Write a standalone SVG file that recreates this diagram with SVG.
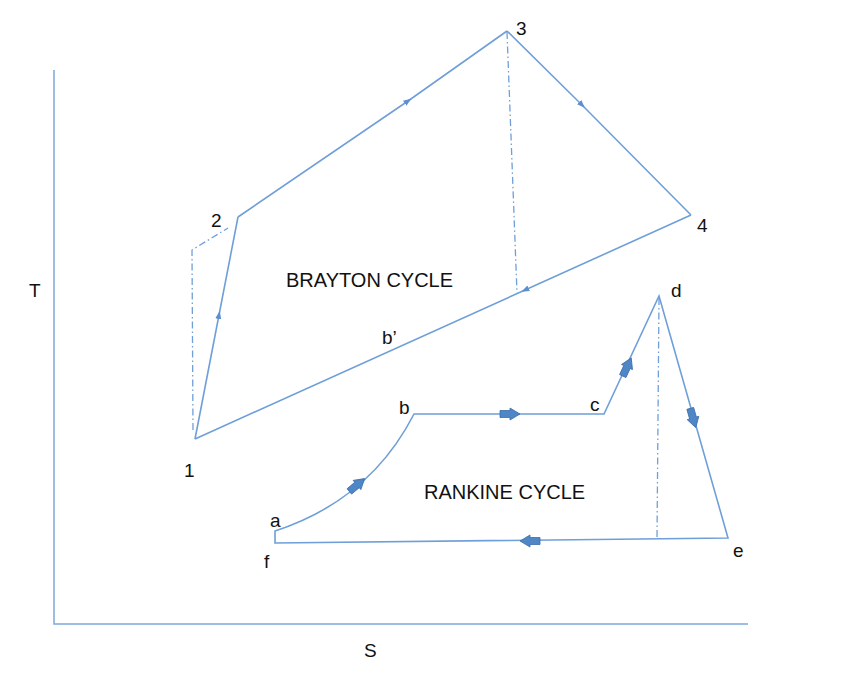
<svg xmlns="http://www.w3.org/2000/svg" width="850" height="697" viewBox="0 0 850 697">
<style>
.ln{fill:none;stroke:#6F9FD8;stroke-width:1.6}
.dd{fill:none;stroke:#6F9FD8;stroke-width:1.3;stroke-dasharray:7 3 1.5 3}
.ax{fill:none;stroke:#7FA8D9;stroke-width:1.5}
.t{font-family:"Liberation Sans",Arial,sans-serif;font-size:19px;fill:#111}
.c{font-size:20px}
.blk{fill:#4F86C6;stroke:#3A6DAA;stroke-width:0.8}
</style>
<defs>
<marker id="sm" markerWidth="8" markerHeight="8" refX="4" refY="4" orient="auto" markerUnits="userSpaceOnUse">
<path d="M0,1 L8,4 L0,7 Z" fill="#5B8FCF"/>
</marker>
<path id="ba" d="M-10,-3.5 L0,-3.5 L0,-6 L10,0 L0,6 L0,3.5 L-10,3.5 Z"/>
</defs>
<rect width="850" height="697" fill="#fff"/>
<g id="axes">
<path class="ax" d="M54,70 L54,624 L748,624"/>
<text class="t" x="29" y="297">T</text>
<text class="t" x="364" y="657">S</text>
</g>
<g id="connectors">
<path class="ln" d="M195,439 L219,315 L238,217" marker-mid="url(#sm)"/>
<path class="ln" d="M238,217 L408,101 L507,31" marker-mid="url(#sm)"/>
<path class="ln" d="M507,31 L582,105 L691,215" marker-mid="url(#sm)"/>
<path class="ln" d="M691,215 L525,290 L195,439" marker-mid="url(#sm)"/>
<path class="dd" d="M193,430 L192,250 L228,228"/>
<path class="dd" d="M507,32 L517,293"/>
<path class="ln" d="M275,543 L275,531 Q370,500 414,414 L604,414 L659,296 L728,538 Z"/>
<path class="dd" d="M659,298 L657,538"/>
<use href="#ba" class="blk" transform="translate(357,485) rotate(-40)"/>
<use href="#ba" class="blk" transform="translate(510,414)"/>
<use href="#ba" class="blk" transform="translate(627,367) rotate(-65)"/>
<use href="#ba" class="blk" transform="translate(693,418) rotate(74)"/>
<use href="#ba" class="blk" transform="translate(530,541) rotate(180)"/>
</g>
<g id="brayton">
<text class="t" x="184" y="477">1</text>
<text class="t" x="211" y="227">2</text>
<text class="t" x="516" y="35">3</text>
<text class="t" x="697" y="232">4</text>
<text class="t c" x="286" y="287">BRAYTON CYCLE</text>
<text class="t" x="382" y="344">b’</text>
</g>
<g id="rankine">
<text class="t" x="270" y="527">a</text>
<text class="t" x="399" y="414">b</text>
<text class="t" x="590" y="411">c</text>
<text class="t" x="671" y="297">d</text>
<text class="t" x="733" y="557">e</text>
<text class="t" x="264" y="568">f</text>
<text class="t c" x="424" y="499">RANKINE CYCLE</text>
</g>
</svg>
